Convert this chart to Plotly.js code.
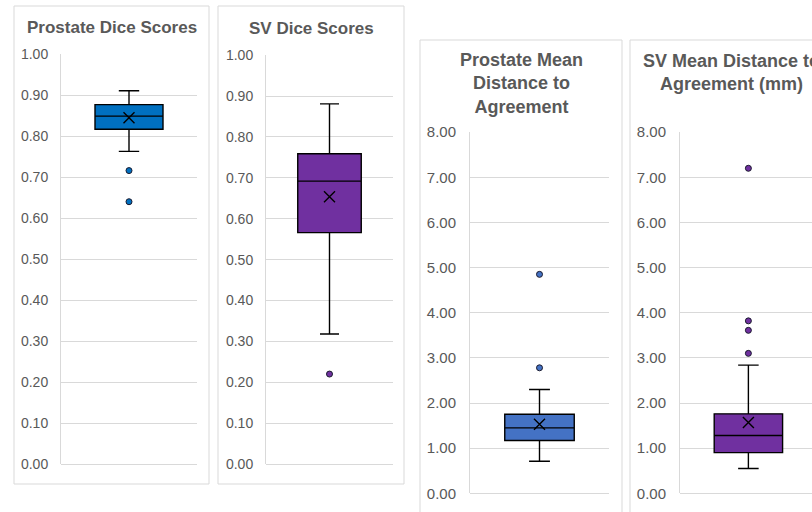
<!DOCTYPE html>
<html>
<head>
<meta charset="utf-8">
<script src="https://cdn.plot.ly/plotly-3.0.1.min.js"></script>
<style>html,body{margin:0;padding:0;background:#fff;}#chart{width:812px;height:512px;}</style>
</head>
<body>
<div id="chart"></div>
<script>
// ---- data ----
const panelTitles = ["Prostate Dice Scores", "SV Dice Scores", "Prostate Mean<br>Distance to<br>Agreement", "SV Mean Distance to<br>Agreement (mm)"];
const q1Values = [0.817, 0.566, 1.17, 0.90];
const medianValues = [0.849, 0.692, 1.45, 1.28];
const q3Values = [0.877, 0.759, 1.75, 1.76];
const lowerWhiskers = [0.763, 0.318, 0.71, 0.55];
const upperWhiskers = [0.911, 0.881, 2.30, 2.84];
const meanValues = [0.845, 0.654, 1.53, 1.57];
const outlierValues = [[0.716, 0.640], [0.22], [4.85, 2.78], [7.20, 3.82, 3.61, 3.10]];
const yRanges = [[0, 1], [0, 1], [0, 8], [0, 8]];
const yTickStep = [0.1, 0.1, 1, 1];
const fillColors = ["#0070C0", "#7030A0", "#4472C4", "#7030A0"];

// ---- layout geometry (pixels) ----
const W = 812, H = 512;
const px = v => v / W;
const py = v => 1 - v / H;
const plotBoxes = [
  {l: 61, r: 197, t: 54, b: 464, xr: [-1, 1]},
  {l: 266, r: 393, t: 55, b: 464, xr: [-1, 1]},
  {l: 470, r: 609, t: 132, b: 493.3, xr: [-1, 1]},
  {l: 680, r: 812, t: 132, b: 493.3, xr: [-1, 0.93]}
];
const frames = [
  {x0: 14, y0: 6, x1: 209, y1: 484},
  {x0: 218, y0: 6, x1: 404, y1: 484},
  {x0: 420, y0: 40, x1: 622, y1: 540},
  {x0: 630, y0: 40, x1: 840, y1: 540}
];
const titlePos = [{x: 111.5, y: 27}, {x: 311, y: 28}, {x: 521, y: 83.3}, {x: 731, y: 72.5}];
const titleSizes = [17, 17, 18, 18];
const tickSizes = [14, 14, 15, 15];
const tickStandoff = [9, 9, 10, 10];

const traces = [];
const layout = {
  width: W, height: H,
  margin: {l: 0, r: 0, t: 0, b: 0},
  paper_bgcolor: "#ffffff", plot_bgcolor: "#ffffff",
  showlegend: false,
  font: {family: "Liberation Sans, Arial, sans-serif", color: "#595959"},
  shapes: [], annotations: []
};

for (let i = 0; i < 4; i++) {
  const n = i === 0 ? "" : String(i + 1);
  const xa = "x" + n, ya = "y" + n;
  traces.push({
    type: "box", xaxis: xa, yaxis: ya,
    x: [0],
    q1: [q1Values[i]], median: [medianValues[i]], q3: [q3Values[i]],
    lowerfence: [lowerWhiskers[i]], upperfence: [upperWhiskers[i]],
    boxpoints: false, width: 1, whiskerwidth: 0.3,
    fillcolor: fillColors[i],
    line: {color: "#000000", width: 1.4},
    hoverinfo: "skip"
  });
  traces.push({
    type: "scatter", mode: "markers", xaxis: xa, yaxis: ya,
    x: outlierValues[i].map(() => 0), y: outlierValues[i],
    marker: {symbol: "circle", size: 6, color: fillColors[i], line: {color: "#1a1a2e", width: 1}},
    hoverinfo: "skip"
  });
  traces.push({
    type: "scatter", mode: "markers", xaxis: xa, yaxis: ya,
    x: [0], y: [meanValues[i]],
    marker: {symbol: "x-thin-open", size: 11, color: "#000000", line: {color: "#000000", width: 1.4}},
    hoverinfo: "skip"
  });
  const pb = plotBoxes[i];
  layout["xaxis" + n] = {
    domain: [px(pb.l), Math.min(1, px(pb.r))], range: pb.xr, anchor: ya,
    visible: false, fixedrange: true
  };
  layout["yaxis" + n] = {
    domain: [py(pb.b), py(pb.t)], range: [yRanges[i][0], yRanges[i][1] * 1.0005], anchor: xa,
    tick0: 0, dtick: yTickStep[i], tickformat: ".2f",
    showgrid: true, gridcolor: "#d9d9d9", gridwidth: 1,
    zeroline: true, zerolinecolor: "#d9d9d9", zerolinewidth: 1,
    showline: true, linecolor: "#d9d9d9", linewidth: 1,
    ticks: "", ticklabelstandoff: tickStandoff[i],
    tickfont: {family: "Liberation Sans, Arial, sans-serif", size: tickSizes[i], color: "#595959"},
    fixedrange: true
  };
  const f = frames[i];
  layout.shapes.push({
    type: "rect", xref: "paper", yref: "paper",
    x0: px(f.x0), x1: px(f.x1), y0: py(f.y1), y1: py(f.y0),
    line: {color: "#d9d9d9", width: 1}, fillcolor: "rgba(0,0,0,0)", layer: "below"
  });
  layout.annotations.push({
    xref: "paper", yref: "paper", x: px(titlePos[i].x), y: py(titlePos[i].y),
    xanchor: "center", yanchor: "middle", showarrow: false, align: "center",
    text: "<b>" + panelTitles[i] + "</b>",
    font: {family: "Liberation Sans, Arial, sans-serif", size: titleSizes[i], color: "#595959"}
  });
}

Plotly.newPlot("chart", traces, layout, {staticPlot: true, displayModeBar: false});
</script>
</body>
</html>
